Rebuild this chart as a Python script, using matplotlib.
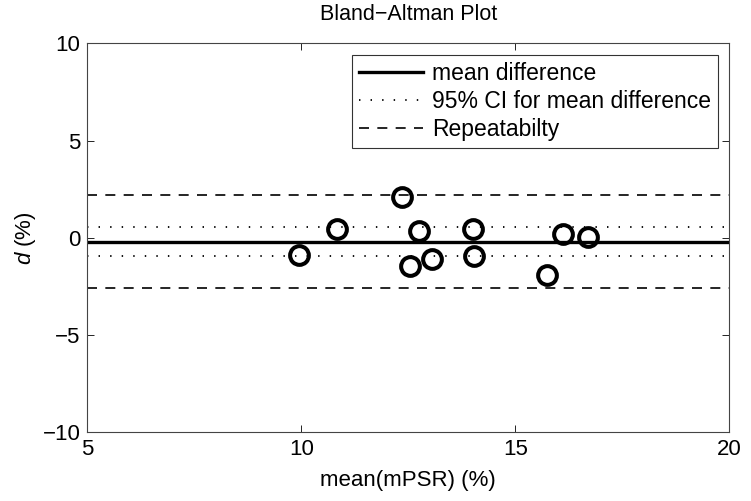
import numpy as np
import matplotlib
matplotlib.use("Agg")
import matplotlib.pyplot as plt

plt.rcParams['font.family'] = ['Liberation Sans', 'DejaVu Sans']
plt.rcParams['mathtext.fontset'] = 'custom'
plt.rcParams['mathtext.it'] = 'Liberation Sans:italic'
plt.rcParams['mathtext.rm'] = 'Liberation Sans'

### data
mean_mpsr = np.array([9.95, 10.84, 12.36, 12.54, 12.74, 13.05, 14.0, 14.04, 15.73, 16.11, 16.7])
diff_d    = np.array([-0.9, 0.44, 2.08, -1.43, 0.35, -1.1, 0.45, -0.92, -1.91, 0.2, 0.03])

mean_diff = -0.2
ci_lo, ci_hi = -0.94, 0.57
rep_lo, rep_hi = -2.6, 2.2
x_range = [5, 20]

fig = plt.figure(figsize=(7.51, 5.01), dpi=100)
ax = fig.add_axes([0.1162, 0.1371, 0.855, 0.7765])

dot = (0, (0.8, 5.6))
ax.plot(x_range, [mean_diff]*2, 'k-', lw=2.4, label='mean difference')
ax.plot(x_range, [ci_hi]*2, 'k', ls=dot, lw=1.3, label='95% CI for mean difference')
ax.plot(x_range, [ci_lo]*2, 'k', ls=dot, lw=1.3)
ax.plot(x_range, [rep_hi]*2, 'k', ls=(0, (6, 5)), lw=1.2, label='Repeatabilty')
ax.plot(x_range, [rep_lo]*2, 'k', ls=(0, (6, 5)), lw=1.2)
ax.plot(mean_mpsr, diff_d, 'o', mfc='none', mec='k', ms=13.5, mew=2.9)

ax.set_xlim(5, 20)
ax.set_ylim(-10, 10)
ax.set_xticks([5, 10, 15, 20])
ax.set_yticks([-10, -5, 0, 5, 10])
ax.tick_params(direction='in', top=True, right=True, labelsize=16, length=5, width=0.6, pad=5)
for s in ax.spines.values():
    s.set_linewidth(0.8)
    s.set_color('#444444')

ax.set_title('Bland\u2212Altman Plot', fontsize=15.5, pad=17)
ax.set_xlabel('mean(mPSR) (%)', fontsize=16, labelpad=7)
ax.set_ylabel('$d$ (%)', fontsize=16, labelpad=3)

leg = ax.legend(loc='upper right', fontsize=16.5, frameon=True, fancybox=False,
                edgecolor='k', handlelength=2.8, borderaxespad=0.5, labelspacing=0.22,
                borderpad=0.3, handletextpad=0.4)
leg.get_frame().set_linewidth(0.8)

fig.savefig('out.png', dpi=100)
